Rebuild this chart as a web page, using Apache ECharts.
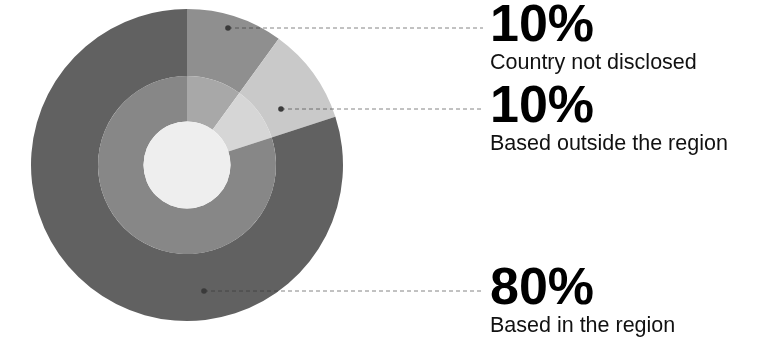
<!DOCTYPE html>
<html>
<head>
<meta charset="utf-8">
<script src="https://cdn.jsdelivr.net/npm/echarts@6/dist/echarts.min.js"></script>
<style>
  html, body { margin: 0; padding: 0; background: #fff; }
  #chart { width: 758px; height: 338px; }
</style>
</head>
<body>
<div id="chart"></div>
<script>
// data
const names = ['Country not disclosed', 'Based outside the region', 'Based in the region'];
const shares = [10, 10, 80];

// colours
const outerColors = ['#8f8f8f', '#c9c9c9', '#616161'];
const innerColors = ['#a8a8a8', '#d6d6d6', '#878787'];
const coreColor = '#eeeeee';

// layout
const cx = 187, cy = 165;
const rOut = 156, rMid = 89, rIn = 43.5;
const labelX = 490;
const labelTop = [3, 84, 266];
const dotX = [228, 281, 204];
const lineEndX = 483;
const lineOffset = 25;

const chart = echarts.init(document.getElementById('chart'), null, { renderer: 'canvas' });

const outerData = names.map((n, i) => ({ name: n, value: shares[i], itemStyle: { color: outerColors[i] } }));
const innerData = names.map((n, i) => ({ name: n, value: shares[i], itemStyle: { color: innerColors[i] } }));

// leader lines and dots
const graphics = [];
names.forEach((n, i) => {
  const y = labelTop[i] + lineOffset;
  graphics.push({
    type: 'line', silent: true, z: 10,
    shape: { x1: dotX[i], y1: y, x2: lineEndX, y2: y },
    style: { stroke: 'rgba(50,50,50,0.6)', lineWidth: 1, lineDash: [4, 3] }
  });
  graphics.push({
    type: 'circle', silent: true, z: 11,
    shape: { cx: dotX[i], cy: y, r: 2.8 },
    style: { fill: '#3a3a3a' }
  });
});

chart.setOption({
  animation: false,
  series: [
    {
      type: 'pie',
      center: [cx, cy],
      radius: [rMid, rOut],
      startAngle: 90,
      clockwise: true,
      silent: true,
      itemStyle: { borderWidth: 0 },
      label: {
        show: true,
        overflow: 'none',
        formatter: p => '{pct|' + p.value + '%}\n{name|' + p.name + '}',
        rich: {
          pct: { fontFamily: 'Liberation Sans', fontWeight: 'bold', fontSize: 52, lineHeight: 47, color: '#000' },
          name: { fontFamily: 'Liberation Sans', fontSize: 21.5, lineHeight: 26, color: '#111' }
        }
      },
      labelLine: { show: false },
      labelLayout: p => ({
        x: labelX,
        y: labelTop[p.dataIndex],
        align: 'left',
        verticalAlign: 'top',
        hideOverlap: false,
        moveOverlap: null
      }),
      data: outerData
    },
    {
      type: 'pie',
      center: [cx, cy],
      radius: [rIn, rMid],
      startAngle: 90,
      clockwise: true,
      silent: true,
      itemStyle: { borderWidth: 0 },
      label: { show: false },
      labelLine: { show: false },
      data: innerData
    },
    {
      type: 'pie',
      center: [cx, cy],
      radius: [0, rIn],
      silent: true,
      label: { show: false },
      labelLine: { show: false },
      itemStyle: { color: coreColor, borderWidth: 0 },
      data: [{ name: 'core', value: 1 }]
    }
  ],
  graphic: graphics
});
</script>
</body>
</html>
